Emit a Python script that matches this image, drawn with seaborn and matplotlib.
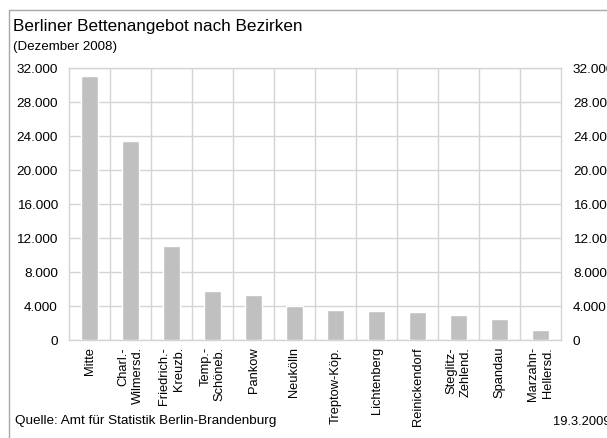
import matplotlib
matplotlib.use("Agg")
import matplotlib.pyplot as plt
import seaborn as sns
import pandas as pd
from matplotlib.lines import Line2D
from matplotlib.ticker import FixedLocator, FuncFormatter

# Bettenangebot je Bezirk, Dezember 2008
bezirke = [
    "Mitte", "Charl.-\nWilmersd.", "Friedrich.-\nKreuzb.", "Temp.-\nSchöneb.",
    "Pankow", "Neukölln", "Treptow-Köp.", "Lichtenberg", "Reinickendorf",
    "Steglitz-\nZehlend.", "Spandau", "Marzahn-\nHellersd.",
]
betten = [31050, 23400, 11100, 5750, 5300, 4000, 3550, 3400, 3300, 2950, 2450, 1200]
y_ticks = [0, 4000, 8000, 12000, 16000, 20000, 24000, 28000, 32000]

sns.set_theme(style="white")
plt.rcParams["font.family"] = ["Liberation Sans", "DejaVu Sans"]

df = pd.DataFrame({"Bezirk": bezirke, "Betten": betten})

fig = plt.figure(figsize=(6.07, 4.39), dpi=100)
ax = fig.add_axes([69 / 607, 1 - 341 / 439, 492 / 607, 272 / 439])

grid_col = "#d4d4d4"
sns.barplot(data=df, x="Bezirk", y="Betten", color="#c0c0c0", width=0.42,
            saturation=1, ax=ax, zorder=3)

ax.set_xlim(-0.5, len(bezirke) - 0.5)
ax.set_ylim(0, 32000)
ax.set_xlabel("")
ax.set_ylabel("")

tick_fs = 9.7
fmt = FuncFormatter(lambda v, _: f"{int(v):,}".replace(",", "."))
ax.yaxis.set_major_locator(FixedLocator(y_ticks))
ax.yaxis.set_major_formatter(fmt)
ax.xaxis.set_minor_locator(FixedLocator([i + 0.5 for i in range(len(bezirke) - 1)]))
ax.grid(True, which="major", axis="y", color=grid_col, lw=1, zorder=0)
ax.grid(True, which="minor", axis="x", color=grid_col, lw=1, zorder=0)
ax.tick_params(axis="y", length=0, pad=8, labelsize=tick_fs, labelcolor="black")
ax.tick_params(axis="x", which="both", length=0, pad=4.3)
ax.set_xticks(range(len(bezirke)))
ax.set_xticklabels(bezirke, rotation=90, ha="center", va="top",
                   multialignment="right", fontsize=9.3, color="black",
                   linespacing=1.25)
for s in ax.spines.values():
    s.set_color(grid_col)
    s.set_linewidth(1)

# Skala zusätzlich rechts
ax2 = ax.twinx()
ax2.set_ylim(ax.get_ylim())
ax2.yaxis.set_major_locator(FixedLocator(y_ticks))
ax2.yaxis.set_major_formatter(fmt)
ax2.tick_params(axis="y", length=0, pad=8.6, labelsize=tick_fs, labelcolor="black")
ax2.grid(False)
for s in ax2.spines.values():
    s.set_visible(False)

fig.text(13 / 607, 1 - 27 / 439, "Berliner Bettenangebot nach Bezirken",
         fontsize=12.3, va="center", ha="left", color="black")
fig.text(13 / 607, 1 - 47 / 439, "(Dezember 2008)",
         fontsize=9.6, va="center", ha="left", color="black")
fig.text(15 / 607, 1 - 421 / 439, "Quelle: Amt für Statistik Berlin-Brandenburg",
         fontsize=9.7, va="center", ha="left", color="black")
fig.text(553 / 607, 1 - 422 / 439, "19.3.2009",
         fontsize=9.3, va="center", ha="left", color="black")

# Rahmen oben und links
frame_col = "#a8a8a8"
fig.add_artist(Line2D([8.5 / 607, 1], [1 - 11 / 439] * 2, color=frame_col, lw=1,
                      transform=fig.transFigure))
fig.add_artist(Line2D([8.5 / 607] * 2, [0, 1 - 11 / 439], color=frame_col, lw=1,
                      transform=fig.transFigure))

fig.savefig("out.png", dpi=100)
